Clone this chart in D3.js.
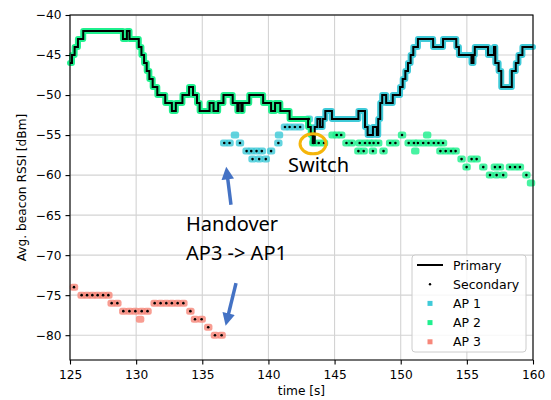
<!DOCTYPE html>
<html><head><meta charset="utf-8">
<script src="https://cdn.jsdelivr.net/npm/d3@7"></script>
<style>body{margin:0;background:#fff} svg{display:block}</style>
</head><body><svg id="c" width="551" height="400"></svg>
<script>
const xTicks=[125,130,135,140,145,150,155,160];
const yTicks=[-40,-45,-50,-55,-60,-65,-70,-75,-80];
const apNames=["AP 1","AP 2","AP 3"];
const apColors={"AP 1":"#3fcad8","AP 2":"#1ff08e","AP 3":"#f7877a"};

// Primary link: step values (time at which the value starts) and serving AP
const primaryT=[125.0,125.15,125.35,125.6,126.0,129.0,129.3,129.5,130.2,130.4,130.6,130.8,131.0,131.25,131.6,132.2,132.7,133.0,133.5,134.0,134.3,134.6,134.8,135.55,135.85,136.2,136.6,137.3,137.65,137.75,137.95,138.05,138.55,139.6,140.2,140.5,140.9,141.6,143.0,143.2,143.35,
 143.5,143.7,143.9,144.1,144.3,144.8,146.8,147.3,147.5,147.9,148.2,148.3,148.45,148.6,148.9,149.4,149.95,150.15,150.35,150.55,150.75,150.95,151.3,152.45,153.2,154.2,154.4,155.35,155.5,155.6,156.6,157.05,157.15,157.4,157.6,158.4,158.7,158.9,159.2,160.0];
const primaryV=[-46,-45,-44,-43,-42,-43,-42,-43,-44,-45,-46,-47,-48,-49,-50,-51,-52,-51,-50,-49,-50,-51,-52,-51,-52,-51,-50,-51,-52,-51,-52,-51,-50,-51,-52,-51,-52,-53,-54,-55,-56,
 -54,-53,-54,-53,-52,-53,-52,-54,-55,-54,-55,-53,-51,-50,-51,-50,-49,-48,-47,-46,-45,-44,-43,-44,-43,-44,-45,-46,-45,-44,-45,-44,-46,-47,-49,-47,-46,-45,-44,-44];
const primaryAP=primaryT.map(t=>t<143.5?"AP 2":"AP 1");

// Secondary readings per AP (with black dot)
const ap1T=[136.66,137.06,137.85,138.35,138.7,139.1,139.5,140.2,138.8,139.3,139.8,140.75,141.25,141.6,142.0,142.4,143.05];
const ap1V=[-56,-56,-56,-57,-57,-57,-57,-57,-58,-58,-58,-56,-54,-54,-54,-54,-53];
// marker-only readings
const ap1MT=[137.47,140.8];
const ap1MV=[-55,-55];

const ap2T=[143.4,143.8,144.2,145.16,145.5,145.9,146.3,146.9,147.3,147.65,146.8,147.2,147.95,148.3,149.2,149.6,147.9,148.7,150.1,150.6,151.0,151.3,151.7,152.1,152.5,152.85,153.2,153.0,153.4,153.8,154.15,154.6,155.36,155.74,154.98,156.24,157.12,157.5,158.26,158.64,159.01,156.75,157.25,157.75,159.5];
const ap2V=[-56,-56,-56,-55,-55,-56,-56,-56,-56,-56,-57,-57,-56,-56,-56,-56,-57,-57,-55,-56,-56,-56,-56,-56,-56,-56,-56,-57,-57,-57,-57,-58,-58,-58,-59,-59,-59,-59,-59,-59,-59,-60,-60,-60,-60];
const ap2MT=[152.0,151.1,159.85,144.85];
const ap2MV=[-55,-57,-61,-55];

const ap3T=[125.3,125.88,126.29,126.69,127.09,127.5,127.9,128.15,128.58,129.03,129.49,129.94,130.42,130.86,131.4,131.85,132.28,132.7,133.14,133.57,134.1,134.45,134.95,135.45,135.96,136.46];
const ap3V=[-74,-75,-75,-75,-75,-75,-75,-76,-76,-77,-77,-77,-77,-77,-76,-76,-76,-76,-76,-76,-77,-78,-78,-79,-80,-80];
const ap3MT=[130.3];
const ap3MV=[-78];

const svg=d3.select("#c");
const W=551,H=400;
const m={l:70,r:18,t:15,b:40};
const x=d3.scaleLinear().domain([125,160]).range([m.l,W-m.r]);
const y=d3.scaleLinear().domain([-83.1,-40]).range([H-m.b,m.t]);
const font='"DejaVu Sans", sans-serif';

// grid
const g=svg.append("g");
g.selectAll(".gx").data(xTicks).join("line").attr("x1",d=>x(d)).attr("x2",d=>x(d)).attr("y1",y.range()[0]).attr("y2",y.range()[1]).attr("stroke","#d3d3d3").attr("stroke-width",1.1);
g.selectAll(".gy").data(yTicks).join("line").attr("y1",d=>y(d)).attr("y2",d=>y(d)).attr("x1",x.range()[0]).attr("x2",x.range()[1]).attr("stroke","#d3d3d3").attr("stroke-width",1.1);

// secondary markers
function markers(T,V,ap){
  const c=apColors[ap];
  const pts=T.map((t,i)=>({t,v:V[i]}));
  svg.append("g").selectAll("rect").data(pts).join("rect")
    .attr("x",d=>x(d.t)-4.2).attr("y",d=>y(d.v)-3.5).attr("width",8.4).attr("height",7).attr("rx",2.5)
    .attr("fill",c).attr("opacity",0.82);
  return pts;
}
const sec=[];
sec.push(...markers(ap3T,ap3V,"AP 3")); markers(ap3MT,ap3MV,"AP 3");
sec.push(...markers(ap1T,ap1V,"AP 1")); markers(ap1MT,ap1MV,"AP 1");
sec.push(...markers(ap2T,ap2V,"AP 2")); markers(ap2MT,ap2MV,"AP 2");

// primary glow per AP + black step line
const prim=primaryT.map((t,i)=>({t,v:primaryV[i],ap:primaryAP[i]}));
const line=d3.line().x(d=>x(d.t)).y(d=>y(d.v)).curve(d3.curveStepAfter);
const runs=[];
prim.forEach(p=>{ if(!runs.length||runs[runs.length-1].ap!==p.ap) runs.push({ap:p.ap,pts:[]}); runs[runs.length-1].pts.push(p);});
runs.forEach((r,k)=>{
  const pts=r.pts.slice();
  if(k<runs.length-1){const n=runs[k+1].pts[0]; pts.push({t:n.t,v:pts[pts.length-1].v});}
  svg.append("path").attr("d",line(pts)).attr("fill","none").attr("stroke",apColors[r.ap]).attr("stroke-width",6).attr("stroke-linejoin","round").attr("stroke-linecap","round");
});
svg.append("path").attr("d",line(prim)).attr("fill","none").attr("stroke","#000").attr("stroke-width",2);

// secondary black dots
svg.append("g").selectAll("circle").data(sec).join("circle").attr("cx",d=>x(d.t)).attr("cy",d=>y(d.v)).attr("r",1.3).attr("fill","#000");

// axes frame
svg.append("rect").attr("x",m.l).attr("y",m.t).attr("width",W-m.l-m.r).attr("height",H-m.t-m.b).attr("fill","none").attr("stroke","#000").attr("stroke-width",1.1);
const xa=svg.append("g").attr("transform",`translate(0,${H-m.b})`).call(d3.axisBottom(x).tickValues(xTicks).tickSize(4.5).tickPadding(4).tickFormat(d3.format("d")));
const ya=svg.append("g").attr("transform",`translate(${m.l},0)`).call(d3.axisLeft(y).tickValues(yTicks).tickSize(4.5).tickPadding(4).tickFormat(d=>String(d).replace("-","\u2212")));
[xa,ya].forEach(a=>{a.select(".domain").remove(); a.selectAll("text").attr("font-family",font).attr("font-size",12.2).attr("fill","#000"); a.selectAll("line").attr("stroke","#000").attr("stroke-width",1.1);});
xa.selectAll("text").attr("dy","0.9em");

svg.append("text").attr("x",(x.range()[0]+x.range()[1])/2).attr("y",395).attr("text-anchor","middle").attr("font-family",font).attr("font-size",12.2).text("time [s]");
svg.append("text").attr("transform",`translate(26,${(y.range()[0]+y.range()[1])/2}) rotate(-90)`).attr("text-anchor","middle").attr("font-family",font).attr("font-size",12.2).text("Avg. beacon RSSI [dBm]");

// legend
const lg=svg.append("g").attr("transform","translate(412,255)");
lg.append("rect").attr("width",114).attr("height",97).attr("rx",3).attr("fill","#fff").attr("fill-opacity",0.8).attr("stroke","#ccc");
const rows=["Primary","Secondary",...apNames];
rows.forEach((r,i)=>{
  const yy=10+i*19.2;
  if(i===0) lg.append("line").attr("x1",5).attr("x2",31).attr("y1",yy).attr("y2",yy).attr("stroke","#000").attr("stroke-width",2);
  else if(i===1) lg.append("circle").attr("cx",18).attr("cy",yy).attr("r",1.2).attr("fill","#000");
  else lg.append("rect").attr("x",15.5).attr("y",yy-2.5).attr("width",5).attr("height",5).attr("fill",apColors[r]);
  lg.append("text").attr("x",41).attr("y",yy).attr("dy","0.36em").attr("font-family",font).attr("font-size",12.5).text(r);
});

// annotations (positioned in data units)
const blue="#4472c4";
svg.append("defs").append("marker").attr("id","ah").attr("viewBox","0 0 10 10").attr("refX",4).attr("refY",5).attr("markerWidth",3.8).attr("markerHeight",3.6).attr("orient","auto")
  .append("path").attr("d","M0,0L10,5L0,10z").attr("fill",blue);
function arrow(t1,v1,t2,v2){svg.append("line").attr("x1",x(t1)).attr("y1",y(v1)).attr("x2",x(t2)).attr("y2",y(v2)).attr("stroke",blue).attr("stroke-width",3.5).attr("marker-end","url(#ah)");}
arrow(137.17,-63.7,136.88,-59.9);
arrow(137.55,-73.5,136.9,-77.9);
svg.append("ellipse").attr("cx",x(143.37)).attr("cy",y(-56.1)).attr("rx",13).attr("ry",10).attr("fill","none").attr("stroke","#f5b50a").attr("stroke-width",3);
const af='"Noto Sans", sans-serif';
svg.append("text").attr("x",x(141.48)).attr("y",y(-59.6)).attr("font-family",af).attr("font-size",20).text("Switch");
svg.append("text").attr("x",x(133.77)).attr("y",y(-66.97)).attr("font-family",af).attr("font-size",20).text("Handover");
svg.append("text").attr("x",x(133.77)).attr("y",y(-70.6)).attr("font-family",af).attr("font-size",20).text("AP3 -> AP1");
</script></body></html>
